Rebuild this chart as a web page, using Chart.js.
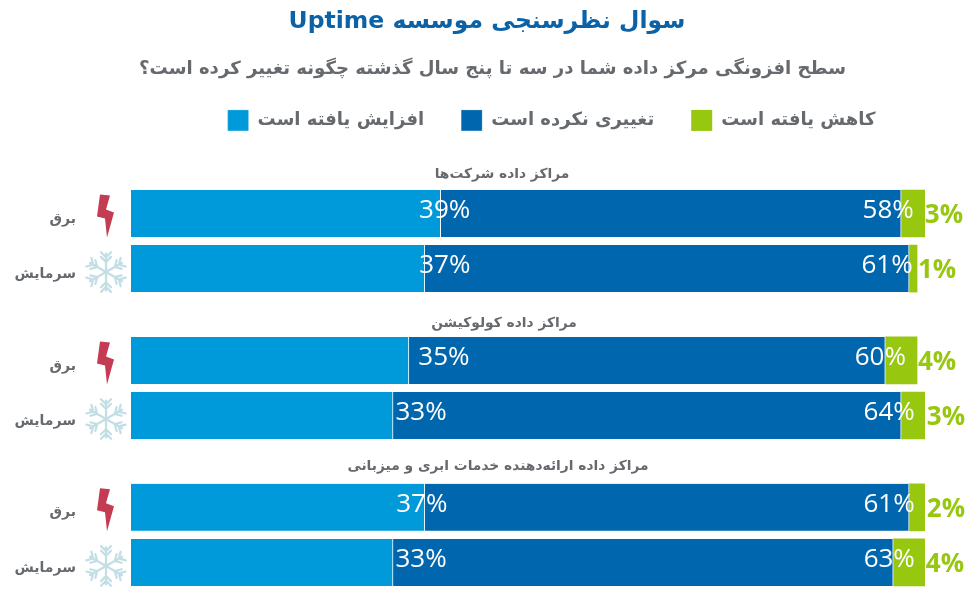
<!DOCTYPE html>
<html lang="fa"><head><meta charset="utf-8">
<style>html,body{margin:0;padding:0;background:#fff}canvas{display:block}</style>
<script src="https://cdn.jsdelivr.net/npm/chart.js@4/dist/chart.umd.min.js"></script>
</head><body>
<canvas id="c" width="975" height="600" dir="rtl"></canvas>
<script>
const chartTitle = 'سوال نظرسنجی موسسه Uptime';
const chartSubtitle = 'سطح افزونگی مرکز داده شما در سه تا پنج سال گذشته چگونه تغییر کرده است؟';
const seriesNames = ['افزایش یافته است', 'تغییری نکرده است', 'کاهش یافته است'];
const groupNames = ['مراکز داده شرکت‌ها', 'مراکز داده کولوکیشن', 'مراکز داده ارائه‌دهنده خدمات ابری و میزبانی'];
const rowNames = ['برق', 'سرمایش', 'برق', 'سرمایش', 'برق', 'سرمایش'];
const increased = [39, 37, 35, 33, 37, 33];
const unchanged = [58, 61, 60, 64, 61, 63];
const decreased = [3, 1, 4, 3, 2, 4];

const slotCount = 22;
const rowSlots = [1, 4, 9, 12, 17, 20];
const labels = Array(slotCount).fill('');
rowSlots.forEach((s, i) => { labels[s] = rowNames[i]; });
const expand = values => { const a = Array(slotCount).fill(null); rowSlots.forEach((s, i) => { a[s] = values[i]; }); return a; };

const GREY = '#666a6e';
const FA = '"DejaVu Sans"';

const decor = {
  id: 'decor',
  afterLayout(chart) {
    const lg = chart.legend;
    lg.left += 89; lg.right += 89; lg.top -= 45; lg.bottom -= 45;
    chart.titleBlock.left += 24.5; chart.titleBlock.right += 24.5;
    chart.boxes.forEach(b => {
      if (b.options && b.options.text === chartSubtitle) { b.left += 30; b.right += 30; }
    });
  },
  afterDatasetsDraw(chart) {
    const ctx = chart.ctx, y = chart.scales.y;
    const headerOffsets = [39.5, 36.5, 40.5], headerX = [502, 504, 498];
    ctx.save();
    ctx.direction = 'rtl'; ctx.textAlign = 'center'; ctx.textBaseline = 'middle';
    ctx.fillStyle = GREY; ctx.font = 'bold 13.8px ' + FA;
    groupNames.forEach((g, i) => {
      ctx.fillText(g, headerX[i], y.getPixelForValue(rowSlots[i * 2]) - headerOffsets[i]);
    });
    rowSlots.forEach((s, i) => {
      const cy = y.getPixelForValue(s);
      if (i % 2 === 0) {
        ctx.fillStyle = '#c43c52';
        const cx = 106;
        const pts = [[-6, -19], [4, -18], [0, -4], [8, -1], [1, 24], [-1, 5], [-9, 3]];
        ctx.beginPath();
        pts.forEach((p, k) => k ? ctx.lineTo(cx + p[0], cy + p[1]) : ctx.moveTo(cx + p[0], cy + p[1]));
        ctx.closePath(); ctx.fill();
      } else {
        const cx = 106, my = cy + 3.5, R = 18.5;
        ctx.strokeStyle = '#c3dfe5'; ctx.lineWidth = 2.2; ctx.lineCap = 'round';
        for (let k = 0; k < 6; k++) {
          ctx.save(); ctx.translate(cx, my); ctx.rotate(k * Math.PI / 3);
          ctx.beginPath(); ctx.moveTo(0, 0); ctx.lineTo(0, -R);
          [-0.55, -0.8].forEach(f => {
            ctx.moveTo(0, R * f); ctx.lineTo(-5, R * f - 5);
            ctx.moveTo(0, R * f); ctx.lineTo(5, R * f - 5);
          });
          ctx.stroke(); ctx.restore();
        }
      }
    });
    const blueOffsets = [4, 20, 35, 28, -3, 28];
    const darkOffsets = [-13, -22, -5, -12, -20, -4];
    const greenOffsets = [19, 20, 20, 21, 21, 20];
    const offsets = [blueOffsets, darkOffsets, greenOffsets];
    ctx.direction = 'ltr';
    chart.data.datasets.forEach((ds, d) => {
      const meta = chart.getDatasetMeta(d);
      rowSlots.forEach((s, i) => {
        const el = meta.data[s];
        ctx.fillStyle = d === 2 ? '#97c70f' : '#ffffff';
        ctx.font = (d === 2 ? 'bold ' : '') + '26px "Open Sans"';
        ctx.fillText(ds.data[s] + '%', el.x + offsets[d][i], el.y + (d === 2 ? 2 : -3));
      });
    });
    ctx.restore();
  }
};

new Chart(document.getElementById('c'), {
  type: 'bar',
  plugins: [decor],
  data: {
    labels,
    datasets: [
      { label: seriesNames[0], data: expand(increased), backgroundColor: '#0099da', borderColor: '#ffffff', borderWidth: { right: 1 }, borderSkipped: false },
      { label: seriesNames[1], data: expand(unchanged), backgroundColor: '#0066ad', borderColor: '#ffffff', borderWidth: { right: 1 }, borderSkipped: false },
      { label: seriesNames[2], data: expand(decreased), backgroundColor: '#97c70f', borderWidth: 0 }
    ]
  },
  options: {
    indexAxis: 'y',
    responsive: false,
    animation: false,
    barThickness: 47,
    layout: { padding: { right: 50, bottom: 10 } },
    scales: {
      x: { stacked: true, display: false, min: 0, max: 100 },
      y: {
        stacked: true,
        grid: { display: false, drawTicks: false },
        border: { display: false },
        ticks: { autoSkip: false, padding: 55, labelOffset: 5.5, color: GREY, font: { family: FA, size: 14, weight: 'bold' } },
        afterFit(s) { s.width = 131; s.paddingTop = 0; s.paddingBottom = 0; }
      }
    },
    plugins: {
      title: { display: true, text: chartTitle, color: '#0b62a6', font: { family: FA, size: 23.5, weight: 'bold', lineHeight: 1.2 }, padding: { top: 8, bottom: 22 } },
      subtitle: { display: true, text: chartSubtitle, color: GREY, font: { family: FA, size: 18.1, weight: 'bold', lineHeight: 1.2 }, padding: { top: 0, bottom: 38 } },
      legend: {
        position: 'top',
        labels: { boxWidth: 21, boxHeight: 21, padding: 37, color: GREY, font: { family: FA, size: 18, weight: 'bold' } }
      },
      tooltip: { enabled: false }
    }
  }
});
</script>
</body></html>
